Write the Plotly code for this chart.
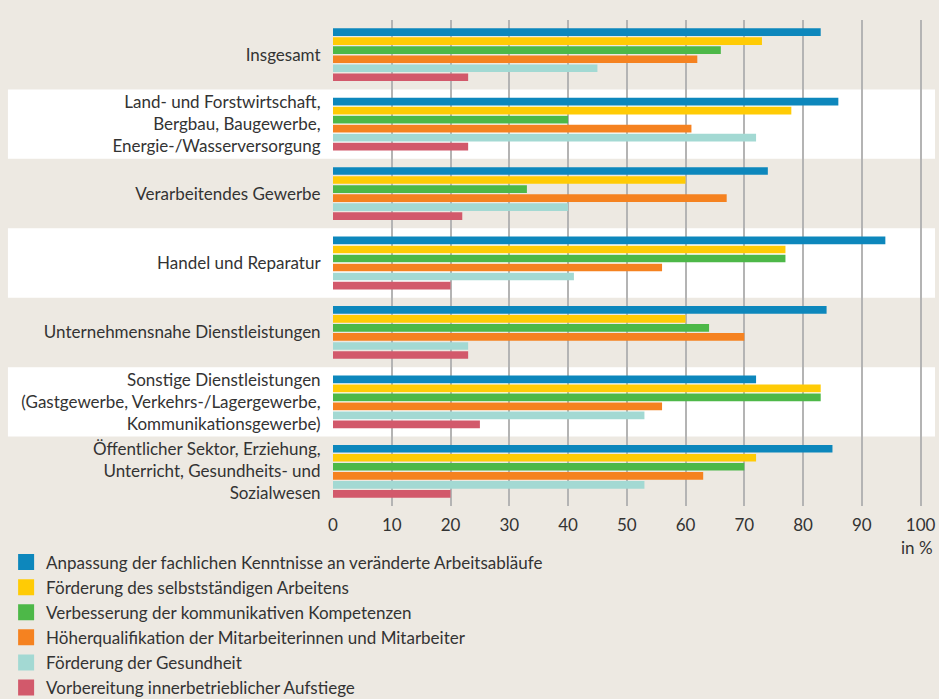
import plotly.graph_objects as go

categories = [
    "Insgesamt",
    "Land- und Forstwirtschaft,<br>Bergbau, Baugewerbe,<br>Energie-/Wasserversorgung",
    "Verarbeitendes Gewerbe",
    "Handel und Reparatur",
    "Unternehmensnahe Dienstleistungen",
    "Sonstige Dienstleistungen<br>(Gastgewerbe, Verkehrs-/Lagergewerbe,<br>Kommunikationsgewerbe)",
    "Öffentlicher Sektor, Erziehung,<br>Unterricht, Gesundheits- und<br>Sozialwesen",
]

series_names = [
    "Anpassung der fachlichen Kenntnisse an veränderte Arbeitsabläufe",
    "Förderung des selbstständigen Arbeitens",
    "Verbesserung der kommunikativen Kompetenzen",
    "Höherqualifikation der Mitarbeiterinnen und Mitarbeiter",
    "Förderung der Gesundheit",
    "Vorbereitung innerbetrieblicher Aufstiege",
]

anpassung = [83, 86, 74, 94, 84, 72, 85]
selbststaendig = [73, 78, 60, 77, 60, 83, 72]
kommunikativ = [66, 40, 33, 77, 64, 83, 70]
hoeherqualifikation = [62, 61, 67, 56, 70, 56, 63]
gesundheit = [45, 72, 40, 41, 23, 53, 53]
aufstiege = [23, 23, 22, 20, 23, 25, 20]

tick_vals = [0, 10, 20, 30, 40, 50, 60, 70, 80, 90, 100]

series_values = [anpassung, selbststaendig, kommunikativ, hoeherqualifikation, gesundheit, aufstiege]
colors = ["#0D87BC", "#FFCB05", "#4DB848", "#F58220", "#A3D9D3", "#D2596B"]

BG = "#EDE9E2"
FONT = "Lato"
TEXT = "#333333"
FS = 17

fig = go.Figure()
for name, vals, col in zip(series_names, series_values, colors):
    fig.add_trace(go.Bar(
        y=categories, x=vals, name=name, orientation="h",
        marker=dict(color=col, line=dict(width=0)),
        showlegend=False, hoverinfo="x+name",
    ))

for i, (name, col) in enumerate(zip(series_names, colors)):
    fig.add_trace(go.Scatter(
        x=[None], y=[None], mode="markers", name=name,
        marker=dict(symbol="square", size=16, color=col),
        legendgroup=f"g{i}", showlegend=True,
    ))

shapes = []
for i in range(len(categories)):
    if i % 2 == 1:
        shapes.append(dict(
            type="rect", xref="paper", yref="y",
            x0=-0.54, x1=1, y0=i - 0.5, y1=i + 0.5,
            fillcolor="white", line=dict(width=0), layer="below",
        ))

fig.update_layout(
    width=939, height=699,
    margin=dict(l=333, r=4, t=20, b=193, autoexpand=False),
    paper_bgcolor=BG, plot_bgcolor=BG,
    barmode="group", bargap=0.22, bargroupgap=0.15,
    font=dict(family=FONT, size=FS, color=TEXT),
    shapes=shapes,
    xaxis=dict(
        range=[0, 102.45], tickvals=tick_vals, showgrid=True,
        gridcolor="#B4B4B4", gridwidth=2, zeroline=False,
        ticks="outside", ticklen=4, tickcolor="rgba(0,0,0,0)",
        tickfont=dict(size=FS, color=TEXT), fixedrange=True,
    ),
    yaxis=dict(
        autorange="reversed", showgrid=False, zeroline=False,
        ticks="outside", ticklen=8, tickcolor="rgba(0,0,0,0)",
        tickfont=dict(size=FS, color=TEXT), fixedrange=True,
    ),
    legend=dict(
        x=-0.543, y=-0.0792, xanchor="left", yanchor="top",
        bgcolor="rgba(0,0,0,0)", font=dict(size=FS, color=TEXT),
        tracegroupgap=0, itemclick=False,
    ),
    annotations=[dict(
        text="in %", xref="paper", yref="paper", x=1, y=-0.0844,
        xanchor="right", yanchor="middle", showarrow=False,
        font=dict(size=FS, color=TEXT),
    )],
)

fig.write_html(
    "out.html",
    config={"displayModeBar": False},
    post_script="document.body.style.margin='0';document.body.style.background='#EDE9E2';",
)
